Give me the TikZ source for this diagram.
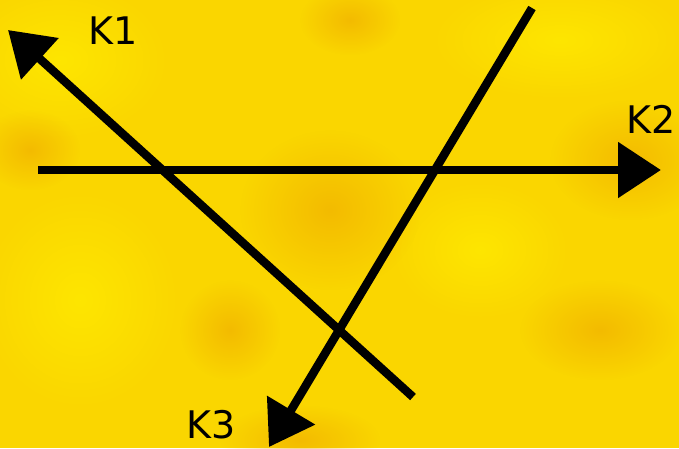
\documentclass[tikz,border=0pt]{standalone}
\usepackage{fontspec}
\setmainfont{DejaVu Sans}
\usetikzlibrary{arrows.meta,fadings}
\definecolor{bgyellow}{RGB}{250,214,0}
\definecolor{blob}{RGB}{238,165,0}
\definecolor{hilite}{RGB}{255,234,0}
\tikzfading[name=softblob, inner color=transparent!0, outer color=transparent!100]
\tikzset{
  vec/.style={line width=8.5pt,-{Triangle[length=43pt,width=54pt]}},
  lab/.style={font=\fontsize{38}{38}\selectfont,inner sep=0pt,text=black},
  spot/.style={fill=blob,path fading=softblob,opacity=0.55},
  lite/.style={fill=hilite,path fading=softblob,opacity=0.8}
}
\begin{document}
\begin{tikzpicture}[x=1pt,y=-1pt]
\fill[bgyellow] (0,0) rectangle (679,448);
\useasboundingbox (0,0) rectangle (679,448);
% texture
\fill[lite] (60,60) ellipse (110 and 80);
\fill[lite] (560,40) ellipse (130 and 60);
\fill[lite] (80,300) ellipse (100 and 110);
\fill[lite] (480,250) ellipse (90 and 70);
\fill[spot] (330,210) ellipse (90 and 80);
\fill[spot] (630,160) ellipse (80 and 60);
\fill[spot] (350,20) ellipse (50 and 35);
\fill[spot] (230,330) ellipse (50 and 50);
\fill[spot] (600,330) ellipse (80 and 50);
\fill[spot] (30,150) ellipse (50 and 40);
\fill[spot] (300,440) ellipse (80 and 35);
% endpoints
\coordinate (a1) at (413,397);
\coordinate (b1) at (8,30);
\coordinate (a2) at (38,170);
\coordinate (b2) at (661,170);
\coordinate (a3) at (532,8);
\coordinate (b3) at (269,447);
\draw[vec] (a1) -- (b1);
\draw[vec] (a2) -- (b2);
\draw[vec] (a3) -- (b3);
\node[lab] (k1) at (113,31) {K1};
\node[lab] (k2) at (651,119) {K2};
\node[lab] (k3) at (211,425) {K3};
\end{tikzpicture}
\end{document}
